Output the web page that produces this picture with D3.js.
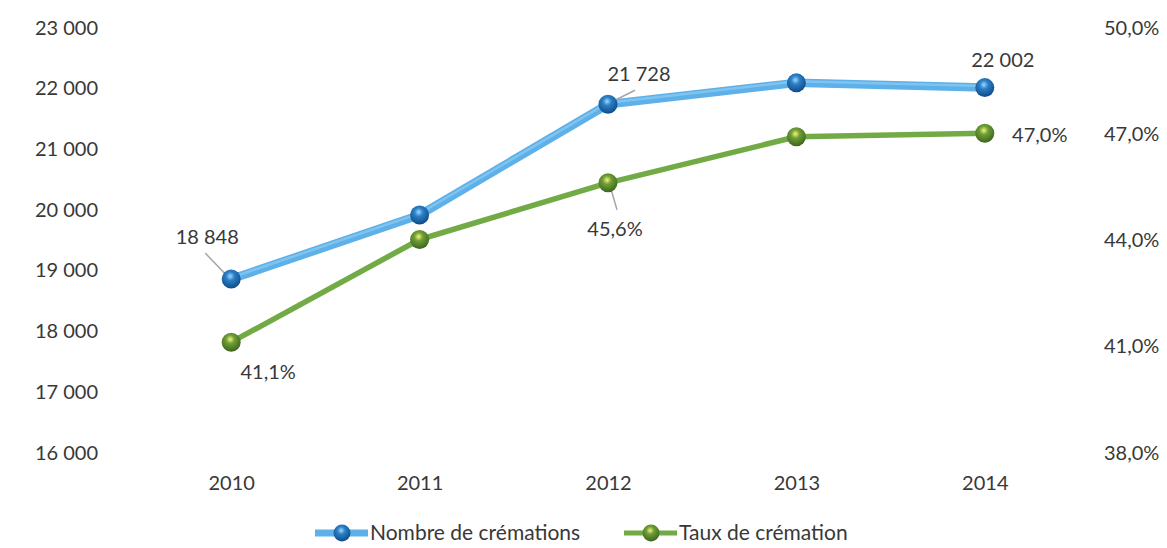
<!DOCTYPE html>
<html><head><meta charset="utf-8">
<script src="https://cdn.jsdelivr.net/npm/d3@7"></script>
<style>body{margin:0;background:#fff}svg{display:block}text{font-family:Lato,"Open Sans",sans-serif;fill:#383838}</style>
</head><body><svg id="c" width="1167" height="548"></svg>
<script>
const years = ["2010","2011","2012","2013","2014"];
const cremations = [18848, 19904, 21728, 22080, 22002];
const taux = [41.1, 44.0, 45.6, 46.9, 47.0];
const leftTicks = [16000,17000,18000,19000,20000,21000,22000,23000];
const rightTicks = [38,41,44,47,50];
const seriesNames = ["Nombre de crémations","Taux de crémation"];
const cremLabelShown = [true,false,true,false,true];
const tauxLabelShown = [true,false,true,false,true];

const svg = d3.select("#c");
const defs = svg.append("defs");
function sphere(id, c0, c1, c2){
  const g = defs.append("radialGradient").attr("id",id).attr("cx","45%").attr("cy","35%").attr("r","65%");
  g.append("stop").attr("offset","0%").attr("stop-color",c0);
  g.append("stop").attr("offset","35%").attr("stop-color",c1);
  g.append("stop").attr("offset","100%").attr("stop-color",c2);
}
sphere("gb","#9fd6ff","#2b7fc6","#0f4b86");
sphere("gg","#f2f57a","#6f9e36","#3c6420");

const fmtN = v => d3.format(",")(v).replace(/,/g," ");
const fmtP = v => d3.format(".1f")(v).replace(".",",")+"%";

const x = d3.scalePoint().domain(years).range([137,1079]).padding(0.5);
const yL = d3.scaleLinear().domain([16000,23000]).range([452,27]);
const yR = d3.scaleLinear().domain([38,50]).range([452,27]);

// axes
const axL = svg.append("g").attr("transform","translate(98,0)")
  .call(d3.axisLeft(yL).tickValues(leftTicks).tickSize(0).tickPadding(0).tickFormat(fmtN));
axL.select(".domain").remove();
axL.selectAll("text").attr("font-size",20).attr("dy","0.35em").style("font-family","Lato");

const axR = svg.append("g").attr("transform","translate(1104,0)")
  .call(d3.axisRight(yR).tickValues(rightTicks).tickSize(0).tickPadding(0).tickFormat(fmtP));
axR.select(".domain").remove();
axR.selectAll("text").attr("font-size",20).attr("dy","0.35em").style("font-family","Lato");

const axX = svg.append("g").attr("transform","translate(0,476)")
  .call(d3.axisBottom(x).tickSize(0).tickPadding(0));
axX.select(".domain").remove();
axX.selectAll("text").attr("font-size",20).attr("dy","0.71em").style("font-family","Lato");

// lines
const lineB = d3.line().x((d,i)=>x(years[i])).y(d=>yL(d));
const lineG = d3.line().x((d,i)=>x(years[i])).y(d=>yR(d));
svg.append("path").datum(cremations).attr("d",lineB).attr("fill","none")
  .attr("stroke","#5db0e8").attr("stroke-width",8.5).attr("stroke-linejoin","round");
svg.append("path").datum(cremations).attr("d",lineB).attr("fill","none")
  .attr("stroke","#8fcdf4").attr("stroke-width",2.5).attr("transform","translate(0,-1.5)").attr("opacity",0.7);
svg.append("path").datum(taux).attr("d",lineG).attr("fill","none")
  .attr("stroke","#72ab45").attr("stroke-width",5.5).attr("stroke-linejoin","round");

// leader lines
function leader(x1,y1,x2,y2){svg.append("line").attr("x1",x1).attr("y1",y1).attr("x2",x2).attr("y2",y2)
  .attr("stroke","#a6a6a6").attr("stroke-width",1.5);}
leader(x("2010")-26, yL(cremations[0])-26, x("2010")-3, yL(cremations[0])-2);
leader(x("2012")+3, yL(cremations[2])-2, x("2012")+27, yL(cremations[2])-14);
leader(x("2012")+2, yR(taux[2])+3, x("2012")+9, yR(taux[2])+27);

// markers
svg.append("g").selectAll("circle").data(cremations).join("circle")
  .attr("cx",(d,i)=>x(years[i])).attr("cy",d=>yL(d)).attr("r",9.5).attr("fill","url(#gb)");
svg.append("g").selectAll("circle").data(taux).join("circle")
  .attr("cx",(d,i)=>x(years[i])).attr("cy",d=>yR(d)).attr("r",9.5).attr("fill","url(#gg)");

// data labels
const cremOff = [[-24,-42],null,[31,-30],null,[18,-28]];
const tauxOff = [[37,30],null,[7,46],null,[55,2]];
const cremLab = cremations.map((v,i)=>({v,i})).filter(o=>cremLabelShown[o.i]);
const tauxLab = taux.map((v,i)=>({v,i})).filter(o=>tauxLabelShown[o.i]);
svg.append("g").selectAll("text").data(cremLab).join("text")
  .attr("x",o=>x(years[o.i])+cremOff[o.i][0]).attr("y",o=>yL(o.v)+cremOff[o.i][1])
  .attr("text-anchor","middle").attr("dy","0.35em").attr("font-size",20).text(o=>fmtN(o.v));
svg.append("g").selectAll("text").data(tauxLab).join("text")
  .attr("x",o=>x(years[o.i])+tauxOff[o.i][0]).attr("y",o=>yR(o.v)+tauxOff[o.i][1])
  .attr("text-anchor","middle").attr("dy","0.35em").attr("font-size",20).text(o=>fmtP(o.v));

// legend
const leg = svg.append("g").attr("transform","translate(0,533)");
const legItems = [{x:315, stroke:"#5db0e8", w:7, fill:"url(#gb)"},{x:624, stroke:"#72ab45", w:5, fill:"url(#gg)"}];
legItems.forEach((it,i)=>{
  leg.append("line").attr("x1",it.x).attr("x2",it.x+53).attr("y1",0).attr("y2",0)
    .attr("stroke",it.stroke).attr("stroke-width",it.w);
  leg.append("circle").attr("cx",it.x+27).attr("cy",0).attr("r",8.5).attr("fill",it.fill);
  leg.append("text").attr("x",it.x+55).attr("y",0).attr("dy","0.35em").attr("font-size",21).text(seriesNames[i]);
});
</script></body></html>
